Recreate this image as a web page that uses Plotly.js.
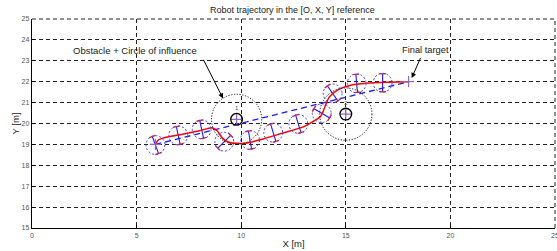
<!DOCTYPE html>
<html><head><meta charset="utf-8">
<script src="https://cdn.plot.ly/plotly-3.0.1.min.js"></script>
<style>html,body{margin:0;padding:0;background:#fff}#chart{width:557px;height:251px}</style>
</head><body><div id="chart"></div>
<script>
// ---- data ----
const trajX = [5.9, 6.02, 6.25, 7.0, 8.0, 8.6, 8.85, 9.1, 9.4, 9.8, 10.3, 11.0, 12.0, 13.0, 13.8, 14.0, 14.2, 14.6, 15.2, 16.0, 17.0, 18.0];
const trajY = [19.0, 19.2, 19.3, 19.45, 19.65, 19.8, 19.65, 19.3, 19.1, 19.05, 19.07, 19.25, 19.55, 19.85, 20.35, 20.8, 21.25, 21.6, 21.82, 21.92, 21.97, 22.0];
const robotX = [5.9, 6.99, 8.11, 9.19, 10.42, 11.53, 12.73, 13.85, 14.37, 15.52, 16.76];
const robotY = [18.97, 19.43, 19.72, 19.13, 19.21, 19.56, 19.98, 20.49, 21.44, 21.92, 21.95];
const robotHeadingDeg = [20, 12, 12, -45, 10, 17, 17, 60, 35, 5, 0];
const robotRadius = 0.45;
const startPt = [5.9, 19.0];
const goalPt = [18.0, 22.0];
const obstacleX = [9.78, 15.0];
const obstacleY = [20.2, 20.45];
const obstacleLabels = ['1', '2'];
const obstacleBodyR = 0.28;
const influenceR = [1.2, 1.25];
const xTicks = [0, 5, 10, 15, 20, 25];
const yTicks = [15, 16, 17, 18, 19, 20, 21, 22, 23, 24, 25];

// ---- build robot glyphs from data ----
const axleX = [], axleY = [], wheelX = [], wheelY = [];
const shapes = [];
for (let i = 0; i < robotX.length; i++) {
  const th = robotHeadingDeg[i] * Math.PI / 180;
  const hx = Math.cos(th), hy = Math.sin(th);
  const px = -hy, py = hx;
  const r = robotRadius, w = 0.16;
  axleX.push(robotX[i] + px * r, robotX[i] - px * r, null);
  axleY.push(robotY[i] + py * r, robotY[i] - py * r, null);
  for (const s of [1, -1]) {
    const cx = robotX[i] + s * px * (r - 0.02), cy = robotY[i] + s * py * (r - 0.02);
    wheelX.push(cx - hx * w, cx + hx * w, null);
    wheelY.push(cy - hy * w, cy + hy * w, null);
  }
  shapes.push({type: 'circle', xref: 'x', yref: 'y',
    x0: robotX[i] - r, x1: robotX[i] + r, y0: robotY[i] - r, y1: robotY[i] + r,
    line: {color: '#3a3aff', width: 1, dash: '2px,2px'}});
}
for (let i = 0; i < obstacleX.length; i++) {
  shapes.push({type: 'circle', xref: 'x', yref: 'y',
    x0: obstacleX[i] - influenceR[i], x1: obstacleX[i] + influenceR[i],
    y0: obstacleY[i] - influenceR[i], y1: obstacleY[i] + influenceR[i],
    line: {color: '#111', width: 1, dash: '1.2px,1.6px'}});
  shapes.push({type: 'circle', xref: 'x', yref: 'y',
    x0: obstacleX[i] - obstacleBodyR, x1: obstacleX[i] + obstacleBodyR,
    y0: obstacleY[i] - obstacleBodyR, y1: obstacleY[i] + obstacleBodyR,
    line: {color: '#000', width: 1.3}});
}
// dashed frame on the top and right edges (grid lines at the range ends)
shapes.push({type: 'line', xref: 'paper', yref: 'paper', x0: 0, x1: 1, y0: 1, y1: 1,
  line: {color: '#222', width: 1, dash: '4px,3px'}});
shapes.push({type: 'line', xref: 'paper', yref: 'paper', x0: 1, x1: 1, y0: 0, y1: 1,
  line: {color: '#222', width: 1, dash: '4px,3px'}});

const traces = [
  {x: [startPt[0], goalPt[0]], y: [startPt[1], goalPt[1]], mode: 'lines',
   line: {color: '#1a1aff', width: 1.3, dash: '6px,4px'}, hoverinfo: 'skip'},
  {x: axleX, y: axleY, mode: 'lines', line: {color: '#1a1aff', width: 1.1}, hoverinfo: 'skip'},
  {x: wheelX, y: wheelY, mode: 'lines', line: {color: '#ee2020', width: 1.3}, hoverinfo: 'skip'},
  {x: trajX, y: trajY, mode: 'lines', line: {color: '#ff0000', width: 1.5, shape: 'spline', smoothing: 0.6}, hoverinfo: 'skip'},
  {x: [startPt[0], goalPt[0]].concat(obstacleX), y: [startPt[1], goalPt[1]].concat(obstacleY),
   mode: 'markers', marker: {symbol: 'cross-thin-open', size: 8, line: {color: '#000', width: 1.2}}, hoverinfo: 'skip'},
  {x: obstacleX, y: obstacleY.map(v => v + 0.52), mode: 'text', text: obstacleLabels,
   textfont: {size: 6, color: '#555'}, hoverinfo: 'skip'}
];

const font = 'Liberation Sans, Arial, Helvetica, sans-serif';
const axisCommon = {
  showgrid: true, gridcolor: '#222', gridwidth: 1, griddash: '4px,3px',
  zeroline: false, showline: true, linecolor: '#000', linewidth: 1.3, mirror: false,
  ticks: 'inside', ticklen: 3, tickcolor: '#000', ticklabeloverflow: 'allow',
  tickfont: {family: font, size: 7, color: '#555'}, fixedrange: true
};
const layout = {
  width: 557, height: 251,
  margin: {l: 32, r: 2, t: 19, b: 23},
  paper_bgcolor: '#fff', plot_bgcolor: '#fff',
  showlegend: false,
  font: {family: font, color: '#222'},
  title: {text: 'Robot trajectory in the [O, X, Y] reference', font: {family: font, size: 9, color: '#222'},
          x: 0.525, xanchor: 'center', y: 0.972, yanchor: 'top'},
  xaxis: Object.assign({}, axisCommon, {range: [0, 25], tickvals: xTicks, ticktext: xTicks.map(String),
    title: {text: 'X [m]', font: {family: font, size: 9.5, color: '#222'}, standoff: 2}}),
  yaxis: Object.assign({}, axisCommon, {range: [15, 25], tickvals: yTicks, ticktext: yTicks.map(String),
    title: {text: 'Y [m]', font: {family: font, size: 9.5, color: '#222'}, standoff: 0}}),
  shapes: shapes,
  annotations: [
    {x: 4.92, y: 23.47, xref: 'x', yref: 'y', text: 'Obstacle + Circle of influence', showarrow: false,
     font: {family: font, size: 9.5, color: '#222'}},
    {x: 9.13, y: 21.2, ax: 8.16, ay: 23.12, xref: 'x', yref: 'y', axref: 'x', ayref: 'y', text: '',
     showarrow: true, arrowhead: 2, arrowsize: 1, arrowwidth: 1, arrowcolor: '#000'},
    {x: 18.79, y: 23.52, xref: 'x', yref: 'y', text: 'Final target', showarrow: false,
     font: {family: font, size: 9.3, color: '#222'}},
    {x: 18.15, y: 22.18, ax: 18.6, ay: 23.2, xref: 'x', yref: 'y', axref: 'x', ayref: 'y', text: '',
     showarrow: true, arrowhead: 2, arrowsize: 1, arrowwidth: 1, arrowcolor: '#000'}
  ]
};
Plotly.newPlot('chart', traces, layout, {staticPlot: true, displayModeBar: false});
</script></body></html>
